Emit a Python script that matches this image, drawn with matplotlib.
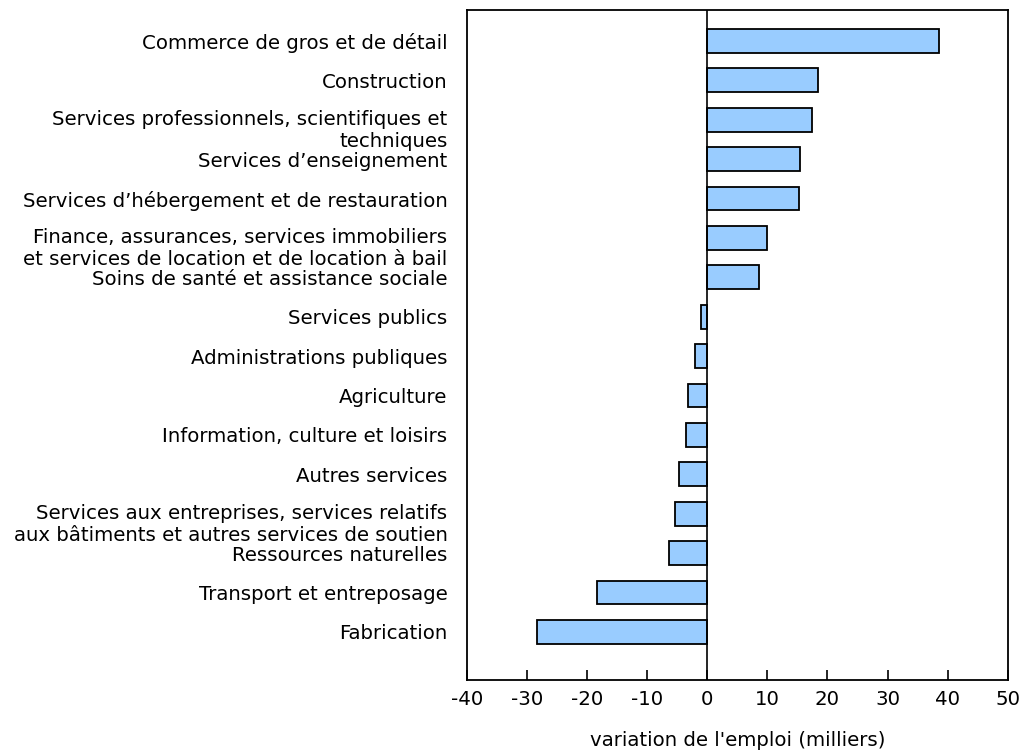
import matplotlib
matplotlib.use("Agg")
import matplotlib.pyplot as plt
import matplotlib.transforms as mtransforms

# --- données : variation de l'emploi par industrie (milliers) ---
industries = [
    "Commerce de gros et de détail",
    "Construction",
    "Services professionnels, scientifiques et\ntechniques",
    "Services d’enseignement",
    "Services d’hébergement et de restauration",
    "Finance, assurances, services immobiliers\net services de location et de location à bail",
    "Soins de santé et assistance sociale",
    "Services publics",
    "Administrations publiques",
    "Agriculture",
    "Information, culture et loisirs",
    "Autres services",
    "Services aux entreprises, services relatifs\naux bâtiments et autres services de soutien",
    "Ressources naturelles",
    "Transport et entreposage",
    "Fabrication",
]
variation = [38.6, 18.4, 17.4, 15.4, 15.3, 9.9, 8.6, -1.1, -2.0, -3.3,
             -3.5, -4.7, -5.4, -6.3, -18.4, -28.4]
xticks = [-40, -30, -20, -10, 0, 10, 20, 30, 40, 50]

# --- figure ---
fig = plt.figure(figsize=(10.22, 7.53), dpi=100)
ax = fig.add_axes([0.457, 0.097, 0.529, 0.89])

pos = list(range(len(industries)))
ax.barh(pos, variation, height=0.6, color="#99ccff", edgecolor="black", linewidth=1.3, zorder=2)
ax.axvline(0, color="black", linewidth=1.2, zorder=3)

ax.set_xlim(-40, 50)
ax.set_ylim(len(industries) + 0.22, -0.79)
ax.set_xticks(xticks)
ax.set_xticklabels([str(t) for t in xticks], fontsize=14.2)
ax.set_yticks(pos)
ax.set_yticklabels(industries, fontsize=14.2, linespacing=1.2)
ax.tick_params(axis="x", direction="in", length=7, width=1.2, pad=7)
ax.tick_params(axis="y", length=0, pad=14)
ax.set_xlabel("variation de l'emploi (milliers)", fontsize=14.2, labelpad=16)

# les étiquettes sur deux lignes sont un peu plus basses dans l'original
decalage = mtransforms.ScaledTranslation(0, -0.07, fig.dpi_scale_trans)
for lab in ax.get_yticklabels():
    if "\n" in lab.get_text():
        lab.set_transform(lab.get_transform() + decalage)

for s in ax.spines.values():
    s.set_linewidth(1.3)

fig.savefig("out.png", dpi=100)
